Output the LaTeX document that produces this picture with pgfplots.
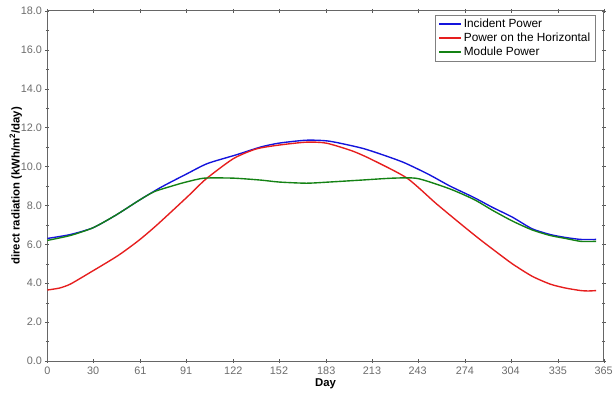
\documentclass[border=0pt]{standalone}
\usepackage{pgfplots}
\pgfplotsset{compat=1.18}
\usepackage{fontspec}
\setmainfont{Liberation Sans}
\definecolor{ib}{RGB}{20,20,220}
\definecolor{ir}{RGB}{230,30,30}
\definecolor{ig}{RGB}{20,130,20}
\begin{document}
\begin{tikzpicture}
\begin{axis}[
  scale only axis, width=564pt, height=355pt,
  xmin=0, xmax=365, ymin=0, ymax=18,
  xtick={0,30,61,91,122,152,183,213,243,274,304,335,365},
  ytick={0,2,...,18}, minor y tick num=1,
  tick align=center,
  major tick length=4pt, minor tick length=3pt,
  tick style={gray!70!black},
  axis line style={gray!80!black, line width=0.8pt},
  /pgf/number format/assume math mode=true,
  yticklabel style={/pgf/number format/.cd, fixed, fixed zerofill, precision=1},
  ticklabel style={font=\fontsize{11}{12}\selectfont, text=gray!85!black},
  xlabel={\textbf{Day}}, ylabel={\textbf{direct radiation (kWh/m\textsuperscript{2}/day)}},
  label style={font=\fontsize{11.5}{13}\selectfont},
  xlabel style={yshift=2pt}, ylabel style={yshift=-8pt},
  legend style={at={(rel axis cs:0.985,0.988)}, anchor=north east, draw=gray,
    font=\fontsize{12}{13}\selectfont},
  legend cell align=left,
  legend image code/.code={\draw[#1, line width=2.2pt] (0pt,0pt) -- (22pt,0pt);},
]
\addplot[ib, line width=1.4pt, smooth, tension=0.4] coordinates {(0,6.3)(15,6.5)(30,6.85)(45,7.5)(61,8.3)(75,8.95)(91,9.6)(105,10.15)(124,10.6)(140,11.0)(152,11.2)(170,11.35)(185,11.3)(206,10.95)(220,10.6)(234,10.2)(250,9.6)(264,9.0)(280,8.4)(292,7.9)(305,7.4)(318,6.8)(330,6.5)(340,6.35)(350,6.25)(360,6.25)};
\addlegendentry{Incident Power}
\addplot[ir, line width=1.4pt, smooth, tension=0.4] coordinates {(0,3.65)(8,3.75)(15,3.95)(27,4.5)(46,5.4)(60,6.2)(72,7.0)(92,8.45)(104,9.35)(122,10.4)(137,10.9)(152,11.1)(170,11.25)(183,11.2)(200,10.8)(213,10.35)(236,9.4)(255,8.1)(271,7.06)(283,6.3)(293,5.7)(305,5.0)(318,4.36)(330,3.95)(340,3.75)(350,3.62)(355,3.6)(360,3.62)};
\addlegendentry{Power on the Horizontal}
\addplot[ig, line width=1.4pt, smooth, tension=0.4] coordinates {(0,6.2)(15,6.45)(30,6.85)(45,7.5)(60,8.25)(70,8.7)(82,9.0)(91,9.2)(103,9.4)(122,9.4)(140,9.3)(152,9.2)(170,9.14)(185,9.2)(206,9.3)(227,9.4)(243,9.38)(264,8.85)(280,8.3)(292,7.75)(305,7.2)(318,6.74)(330,6.45)(340,6.3)(350,6.15)(360,6.15)};
\addlegendentry{Module Power}
\end{axis}
\useasboundingbox ([xshift=-48pt,yshift=-37pt]current axis.south west) rectangle ([xshift=4pt,yshift=11pt]current axis.north east);
\end{tikzpicture}
\end{document}
